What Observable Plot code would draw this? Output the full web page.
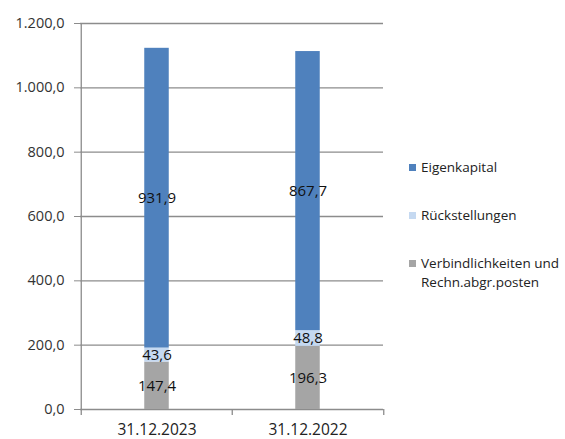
<!DOCTYPE html>
<html><head><meta charset="utf-8">
<script src="https://cdn.jsdelivr.net/npm/d3@7"></script>
<script src="https://cdn.jsdelivr.net/npm/@observablehq/plot@0.6"></script>
<style>
body{margin:0;background:#fff;font-family:"Open Sans","Noto Sans",sans-serif;}
#wrap{position:relative;width:565px;height:439px;}
.leg{position:absolute;left:409px;font-size:13.5px;color:#222;line-height:19px;}
.sw{position:absolute;left:0;top:6px;width:7px;height:7px;}
.lt{position:absolute;left:12px;top:0;white-space:nowrap;}
</style></head>
<body><div id="wrap"></div>
<script>
const categories = ["31.12.2023", "31.12.2022"];
const seriesNames = ["Verbindlichkeiten und Rechn.abgr.posten", "Rückstellungen", "Eigenkapital"];
const verbindlichkeiten = [147.4, 196.3];
const rueckstellungen = [43.6, 48.8];
const eigenkapital = [931.9, 867.7];
const yTicks = [0, 200, 400, 600, 800, 1000, 1200];
const colors = ["#A5A5A5", "#C5D9F1", "#4F81BD"];

const seriesValues = [verbindlichkeiten, rueckstellungen, eigenkapital];
const data = [];
seriesNames.forEach((s, i) => categories.forEach((c, j) => data.push({cat: c, series: s, value: seriesValues[i][j]})));

const loc = d3.formatLocale({decimal: ",", thousands: ".", grouping: [3], currency: ["", ""]});
const fmt = loc.format(",.1f");

const W = 565, H = 439, mL = 80, mR = 182, mT = 23, mB = 30;
const bw = (W - mL - mR) / categories.length;
const tickUnits = 6 * 1200 / (H - mT - mB);

const chart = Plot.plot({
  width: W, height: H,
  marginLeft: mL, marginRight: mR, marginTop: mT, marginBottom: mB,
  style: {fontFamily: '"Open Sans","Noto Sans",sans-serif', fontSize: "14px", color: "#333"},
  x: {domain: categories, padding: 0, label: null},
  y: {domain: [0, 1200], label: null},
  color: {domain: seriesNames, range: colors},
  marks: [
    Plot.ruleY(yTicks, {stroke: "#8C8C8C", strokeWidth: 1.3}),
    Plot.axisY({ticks: yTicks, tickFormat: fmt, tickSize: 6, tickPadding: 10, stroke: "#8C8C8C", fontSize: 14.5, fill: "#333", label: null}),
    Plot.barY(data, {x: "cat", y: "value", fill: "series", order: null, insetLeft: (bw - 25) / 2, insetRight: (bw - 25) / 2}),
    Plot.text(data, Plot.stackY({x: "cat", y: "value", z: "series", order: null, text: d => fmt(d.value), fill: "#111", fontSize: 15})),
    Plot.ruleX(categories, {x: d => d, dx: -bw / 2, y1: 0, y2: -tickUnits, stroke: "#8C8C8C", strokeWidth: 1.3}),
    Plot.ruleX([categories[categories.length - 1]], {x: d => d, dx: bw / 2, y1: 0, y2: -tickUnits, stroke: "#8C8C8C", strokeWidth: 1.3}),
    Plot.ruleX([categories[0]], {x: d => d, dx: -bw / 2, y1: 0, y2: 1200, stroke: "#8C8C8C", strokeWidth: 1.3}),
    Plot.axisX({tickSize: 0, tickPadding: 14, fontSize: 15.5, fill: "#222", label: null})
  ]
});
const wrap = document.getElementById("wrap");
wrap.appendChild(chart);

const legendItems = [
  {name: "Eigenkapital", color: colors[2], top: 158},
  {name: "Rückstellungen", color: colors[1], top: 206},
  {name: "Verbindlichkeiten und<br>Rechn.abgr.posten", color: colors[0], top: 254}
];
legendItems.forEach(it => {
  const d = document.createElement("div");
  d.className = "leg";
  d.style.top = it.top + "px";
  d.innerHTML = `<div class="sw" style="background:${it.color}"></div><div class="lt">${it.name}</div>`;
  wrap.appendChild(d);
});
</script></body></html>
